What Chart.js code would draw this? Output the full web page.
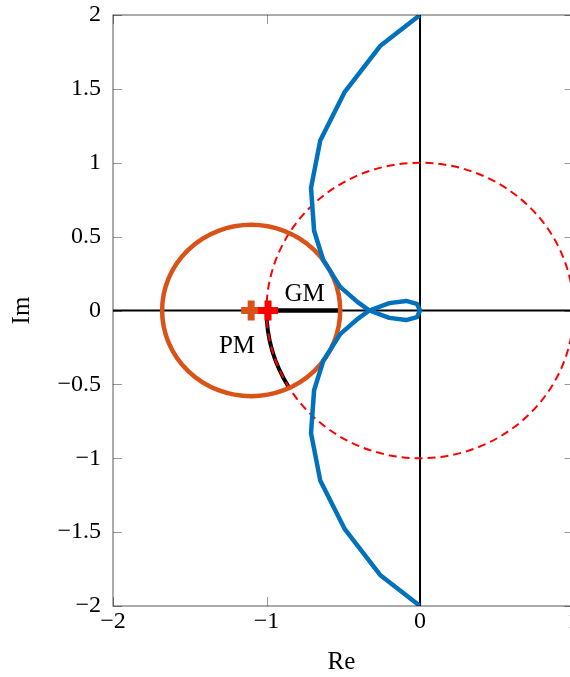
<!DOCTYPE html>
<html>
<head>
<meta charset="utf-8">
<script src="https://cdn.jsdelivr.net/npm/chart.js@4.4.1/dist/chart.umd.min.js"></script>
<style>
html, body { margin: 0; padding: 0; background: #fff; overflow: hidden; }
#wrap { width: 570px; height: 677px; }
</style>
</head>
<body>
<div id="wrap"><canvas id="grafica" width="570" height="677"></canvas></div>
<script>
// curva de Nyquist (Re, Im), recorrido completo
const nyqRe = [0, -0.26, -0.49, -0.65, -0.71, -0.69, -0.63, -0.52, -0.41, -0.33, -0.2, -0.09, -0.02, 0,
               -0.02, -0.09, -0.2, -0.33, -0.41, -0.52, -0.63, -0.69, -0.71, -0.65, -0.49, -0.26, 0];
const nyqIm = [2, 1.79, 1.48, 1.15, 0.83, 0.54, 0.34, 0.16, 0.06, 0, -0.05, -0.065, -0.045, 0,
               0.045, 0.065, 0.05, 0, -0.06, -0.16, -0.34, -0.54, -0.83, -1.15, -1.48, -1.79, -2];

// marcas "+"
const marcaRojaRe = [-0.99];
const marcaNaranjaRe = [-1.1];

// margenes
const gmTramo = [-0.99, -0.53];
const pmAngulos = [180, 211];
const discoCentro = -1.1;
const discoRadio = 0.58;
const circuloUnidad = 1;

// ejes (el borde derecho x=1 queda justo fuera de la imagen)
const limX = [-2, 1];
const visibleMaxX = 0.977;
const ticksX = [-2, -1, 0, 1];
const ticksY = [-2, -1.5, -1, -0.5, 0, 0.5, 1, 1.5, 2];

const fuente = "'Liberation Serif', serif";
const menos = v => String(v).replace('-', '\u2212');

const sinPadding = s => {
    s.paddingTop = 0;
    s.paddingBottom = 0;
    s.paddingLeft = 0;
    s.paddingRight = 0;
};

const decorado = {
    id: 'decorado',
    beforeDatasetsDraw(chart) {
        const { ctx, chartArea: a, scales: { x, y } } = chart;
        const px = v => x.getPixelForValue(v);
        const py = v => y.getPixelForValue(v);
        ctx.save();
        ctx.beginPath();
        ctx.rect(a.left, a.top, a.right - a.left, a.bottom - a.top);
        ctx.clip();

        // ejes en cero
        ctx.strokeStyle = '#000';
        ctx.lineWidth = 2;
        ctx.beginPath();
        ctx.moveTo(a.left, py(0)); ctx.lineTo(a.right, py(0));
        ctx.moveTo(px(0), a.top); ctx.lineTo(px(0), a.bottom);
        ctx.stroke();

        // GM
        ctx.lineWidth = 4.5;
        ctx.beginPath();
        ctx.moveTo(px(gmTramo[0]), py(0)); ctx.lineTo(px(gmTramo[1]), py(0));
        ctx.stroke();

        // PM (arco sobre el circulo unidad)
        const rx = px(circuloUnidad) - px(0);
        const ry = py(0) - py(circuloUnidad);
        ctx.lineWidth = 4;
        ctx.beginPath();
        ctx.ellipse(px(0), py(0), rx, ry, 0, -pmAngulos[1] * Math.PI / 180, -pmAngulos[0] * Math.PI / 180);
        ctx.stroke();

        // circulo unidad
        ctx.strokeStyle = '#ff0000';
        ctx.lineWidth = 2;
        ctx.setLineDash([8, 5]);
        ctx.beginPath();
        ctx.ellipse(px(0), py(0), rx, ry, 0, 0, 2 * Math.PI);
        ctx.stroke();
        ctx.setLineDash([]);

        // disco
        ctx.strokeStyle = '#D95319';
        ctx.lineWidth = 4.5;
        ctx.beginPath();
        ctx.ellipse(px(discoCentro), py(0), px(discoRadio) - px(0), py(0) - py(discoRadio), 0, 0, 2 * Math.PI);
        ctx.stroke();
        ctx.restore();
    },
    afterDatasetsDraw(chart) {
        const { ctx, chartArea: a, scales: { x, y } } = chart;
        const px = v => x.getPixelForValue(v);
        const py = v => y.getPixelForValue(v);
        const derecha = px(limX[1]);
        ctx.save();
        // marco
        ctx.strokeStyle = 'rgba(0,0,0,0.55)';
        ctx.lineWidth = 1.2;
        ctx.strokeRect(a.left, a.top, derecha - a.left, a.bottom - a.top);
        // ticks hacia dentro
        ctx.strokeStyle = 'rgba(0,0,0,0.4)';
        ctx.lineWidth = 1;
        const tl = 9;
        ctx.beginPath();
        ticksY.forEach(v => {
            const yy = Math.round(py(v)) + 0.5;
            ctx.moveTo(a.left, yy); ctx.lineTo(a.left + tl, yy);
            ctx.moveTo(derecha, yy); ctx.lineTo(derecha - tl, yy);
        });
        ticksX.forEach(v => {
            const xx = Math.round(px(v)) + 0.5;
            ctx.moveTo(xx, a.top); ctx.lineTo(xx, a.top + tl);
            ctx.moveTo(xx, a.bottom); ctx.lineTo(xx, a.bottom - tl);
        });
        ctx.stroke();

        // etiqueta del tick x=1 (cortada por el borde)
        ctx.fillStyle = '#000';
        ctx.font = `24px ${fuente}`;
        ctx.textAlign = 'center';
        const primero = x._labelItems && x._labelItems[0];
        if (primero) {
            ctx.textBaseline = primero.options.textBaseline;
            ctx.fillText(menos(limX[1]), derecha, primero.options.translation[1] + primero.textOffset);
        }

        // etiquetas
        ctx.font = `25px ${fuente}`;
        ctx.textAlign = 'center';
        ctx.textBaseline = 'alphabetic';
        ctx.fillText('GM', px(-0.752), py(0.061));
        ctx.fillText('PM', px(-1.192), py(-0.289));
        ctx.restore();
    }
};

const ctx = document.getElementById('grafica').getContext('2d');

const myChart = new Chart(ctx, {
    type: 'scatter',
    data: {
        datasets: [{
            data: marcaRojaRe.map(v => ({ x: v, y: 0 })),
            pointStyle: 'cross',
            pointRadius: 10,
            borderWidth: 7,
            borderColor: '#ff0000',
            backgroundColor: '#ff0000',
            clip: false
        }, {
            data: marcaNaranjaRe.map(v => ({ x: v, y: 0 })),
            pointStyle: 'cross',
            pointRadius: 10,
            borderWidth: 7,
            borderColor: '#D95319',
            backgroundColor: '#D95319',
            clip: false
        }, {
            data: nyqRe.map((v, i) => ({ x: v, y: nyqIm[i] })),
            showLine: true,
            pointRadius: 0,
            borderColor: '#0072BD',
            borderWidth: 4.5,
            tension: 0,
            borderJoinStyle: 'round'
        }]
    },
    options: {
        responsive: false,
        animation: false,
        events: [],
        layout: { autoPadding: false, padding: { top: 15, right: 0, left: 0, bottom: 0 } },
        plugins: { legend: { display: false }, tooltip: { enabled: false } },
        scales: {
            x: {
                type: 'linear',
                min: limX[0],
                max: visibleMaxX,
                afterFit: s => { s.height = 71; sinPadding(s); },
                afterBuildTicks: s => { s.ticks = ticksX.filter(v => v <= visibleMaxX).map(v => ({ value: v })); },
                grid: { display: false },
                border: { display: false },
                ticks: {
                    font: { family: fuente, size: 24 },
                    color: '#000',
                    padding: -7,
                    maxRotation: 0,
                    autoSkip: false,
                    callback: v => menos(v)
                },
                title: {
                    display: true,
                    text: 'Re',
                    font: { family: fuente, size: 25 },
                    color: '#000',
                    padding: { top: 0, bottom: 0 }
                }
            },
            y: {
                type: 'linear',
                min: -2,
                max: 2,
                afterFit: s => { s.width = 113; sinPadding(s); },
                afterBuildTicks: s => { s.ticks = ticksY.map(v => ({ value: v })); },
                grid: { display: false },
                border: { display: false },
                ticks: {
                    font: { family: fuente, size: 24 },
                    color: '#000',
                    padding: 4,
                    autoSkip: false,
                    callback: v => menos(v)
                },
                title: {
                    display: true,
                    text: 'Im',
                    font: { family: fuente, size: 25 },
                    color: '#000',
                    padding: { top: 7, bottom: 0 }
                }
            }
        }
    },
    plugins: [decorado]
});
</script>
</body>
</html>
